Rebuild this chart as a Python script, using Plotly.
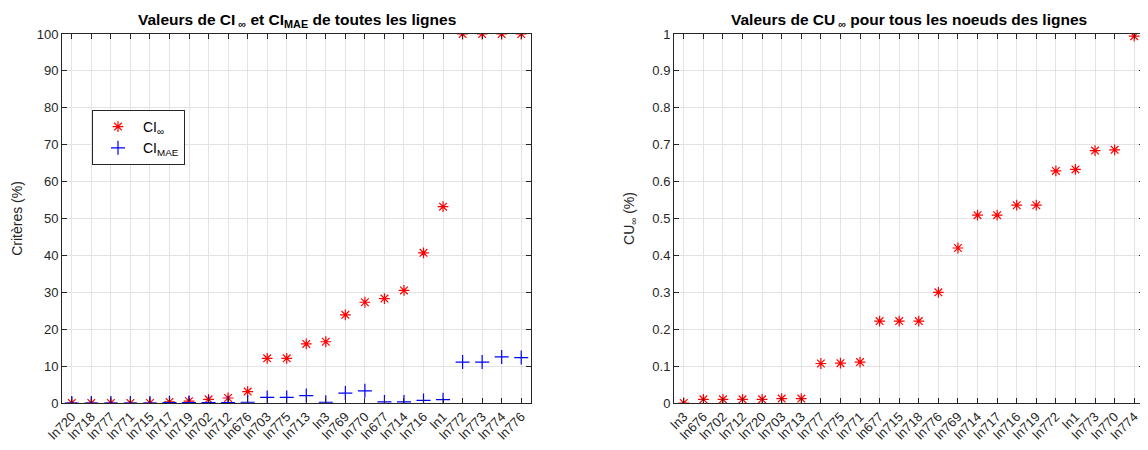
import plotly.graph_objects as go

# ---- data: left chart ----
lines_left = ["ln720", "ln718", "ln777", "ln771", "ln715", "ln717", "ln719", "ln702",
              "ln712", "ln676", "ln703", "ln775", "ln713", "ln3", "ln769", "ln770",
              "ln677", "ln714", "ln716", "ln1", "ln772", "ln773", "ln774", "ln776"]
ci_inf = [0.0, 0.0, 0.0, 0.0, 0.0, 0.3, 0.5, 1.0, 1.35, 3.1, 12.1, 12.1, 16.0, 16.6,
          23.9, 27.3, 28.3, 30.5, 40.7, 53.2, 100, 100, 100, 100]
ci_mae = [0.0, 0.0, 0.0, 0.0, 0.0, 0.1, 0.1, 0.1, 0.1, 0.2, 1.5, 1.5, 2.0, 0.2,
          2.7, 3.3, 0.3, 0.3, 0.7, 0.9, 11.1, 11.1, 12.5, 12.3]

# ---- data: right chart ----
lines_right = ["ln3", "ln676", "ln702", "ln712", "ln720", "ln703", "ln713", "ln777",
               "ln775", "ln771", "ln677", "ln715", "ln718", "ln776", "ln769", "ln714",
               "ln717", "ln716", "ln719", "ln772", "ln1", "ln773", "ln770", "ln774"]
cu_inf = [0.0, 0.010, 0.010, 0.010, 0.010, 0.012, 0.012, 0.107, 0.108, 0.111,
          0.222, 0.222, 0.222, 0.300, 0.420, 0.509, 0.509, 0.536, 0.536, 0.629,
          0.633, 0.684, 0.686, 0.994]

FONT = "Liberation Sans, Arial, Helvetica, sans-serif"
AXC = "#262626"
GRID = "#e3e3e3"
TICK = 13
W, H = 1140, 442  # page body has an 8px default margin

fig = go.Figure()
fig.add_trace(go.Scatter(x=lines_left, y=ci_inf, mode="markers", name="CI<sub>∞</sub>",
                         marker=dict(symbol="asterisk-open", size=9, color="red",
                                     line=dict(color="red", width=1.2)),
                         xaxis="x", yaxis="y"))
fig.add_trace(go.Scatter(x=lines_left, y=ci_mae, mode="markers", name="CI<sub>MAE</sub>",
                         marker=dict(symbol="cross-thin-open", size=10, color="blue",
                                     line=dict(color="blue", width=1.2)),
                         xaxis="x", yaxis="y"))
fig.add_trace(go.Scatter(x=lines_right, y=cu_inf, mode="markers", showlegend=False,
                         marker=dict(symbol="asterisk-open", size=9, color="red",
                                     line=dict(color="red", width=1.2)),
                         xaxis="x2", yaxis="y2"))

common_x = dict(type="category", range=[-0.5, 23.5], tickangle=-45, showgrid=True,
                gridcolor=GRID, showline=True, linecolor=AXC, linewidth=1, mirror="allticks",
                ticks="inside", ticklen=5, tickcolor=AXC, zeroline=False, automargin=False,
                tickfont=dict(family=FONT, size=TICK, color=AXC))
common_y = dict(showgrid=True, gridcolor=GRID, showline=True, linecolor=AXC, linewidth=1,
                mirror="allticks", ticks="inside", ticklen=5, tickcolor=AXC, zeroline=False,
                automargin=False, tickfont=dict(family=FONT, size=TICK, color=AXC))

L1, R1, L2, R2 = 54, 523, 666, 1136
TOP, BOT = 26, 395

fig.update_layout(
    width=W, height=H,
    margin=dict(l=0, r=0, t=TOP, b=H - BOT),
    paper_bgcolor="white", plot_bgcolor="white",
    font=dict(family=FONT, size=TICK, color=AXC),
    xaxis=dict(domain=[L1 / W, R1 / W], anchor="y", **common_x),
    yaxis=dict(domain=[0, 1], anchor="x", range=[0, 100], dtick=10,
               title=dict(text="Critères (%)", font=dict(family=FONT, size=14, color=AXC), standoff=10),
               **common_y),
    xaxis2=dict(domain=[L2 / W, R2 / W], anchor="y2", **common_x),
    yaxis2=dict(domain=[0, 1], anchor="x2", range=[0, 1], dtick=0.1,
                title=dict(text="CU<sub>∞</sub> (%)", font=dict(family=FONT, size=14, color=AXC), standoff=14),
                **common_y),
    legend=dict(x=84 / W, y=(BOT - 102) / (BOT - TOP), xanchor="left", yanchor="top",
                bgcolor="white", bordercolor=AXC, borderwidth=1,
                font=dict(family=FONT, size=14, color="black"), itemwidth=40),
    annotations=[
        dict(text="<b>Valeurs de CI<sub> ∞</sub> et CI<sub>MAE</sub> de toutes les lignes</b>",
             x=(L1 + R1) / 2 / W, y=1, xref="paper", yref="paper", yshift=2,
             xanchor="center", yanchor="bottom", showarrow=False,
             font=dict(family=FONT, size=15.5, color="black")),
        dict(text="<b>Valeurs de CU<sub> ∞</sub> pour tous les noeuds des lignes</b>",
             x=(L2 + R2) / 2 / W, y=1, xref="paper", yref="paper", yshift=2,
             xanchor="center", yanchor="bottom", showarrow=False,
             font=dict(family=FONT, size=15.5, color="black")),
    ],
)

fig.write_html("out.html")
